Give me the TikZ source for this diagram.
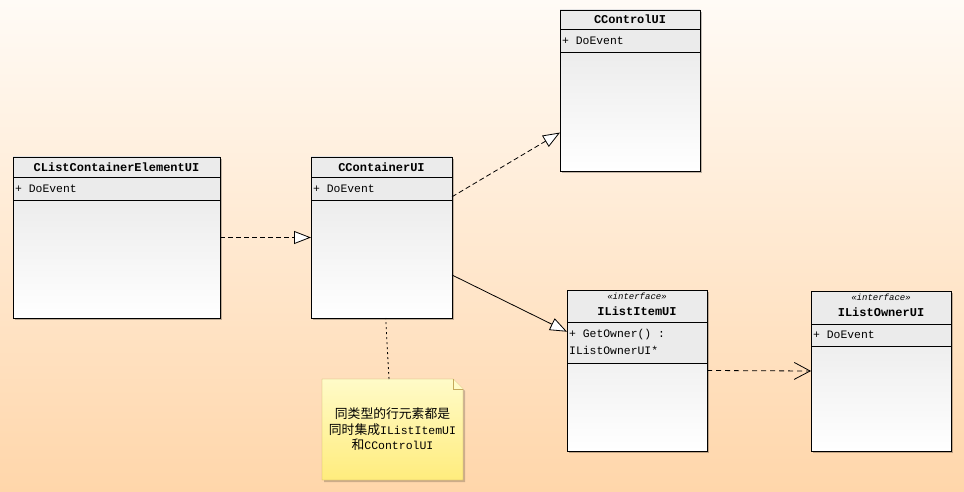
\documentclass[tikz,border=0pt]{standalone}
\usepackage{fontspec}
\setmonofont{Liberation Mono}
\newfontfamily\cjk{Noto Sans CJK SC}
\usetikzlibrary{arrows.meta,shadows,positioning}

\definecolor{bgtop}{RGB}{255,251,246}
\definecolor{bgbot}{RGB}{255,214,170}
\definecolor{notetop}{RGB}{255,251,200}
\definecolor{notebot}{RGB}{255,236,125}
\definecolor{noteline}{RGB}{196,170,90}

\newcommand{\mono}[1]{{\ttfamily\fontsize{11.5}{15.5}\selectfont #1}}

\begin{document}
\begin{tikzpicture}[x=1pt,y=-1pt]
%%%%%%%%%%%%%%%%%%%%%%%%%%%%%%%%%%%%%%%%%%%%%%%%%%%%%%%%
% STYLE
\tikzstyle{cls}=[rectangle,inner sep=0pt,outer sep=0pt,top color=gray!20,bottom color=white,drop shadow={shadow xshift=2pt,shadow yshift=-2pt,fill=black,opacity=0.25}]
\tikzstyle{cmpt}=[fill=gray!16]
\tikzstyle{ttl}=[inner sep=0pt,font=\ttfamily\bfseries\fontsize{12}{14}\selectfont]
\tikzstyle{stereo}=[inner sep=0pt,font=\ttfamily\itshape\fontsize{9}{10}\selectfont]
\tikzstyle{attr}=[inner sep=0pt,anchor=west,align=left,font=\ttfamily\fontsize{11.4}{16.6}\selectfont]
\tikzstyle{notebox}=[rectangle,inner sep=0pt,outer sep=0pt]
\tikzstyle{notetxt}=[align=center,inner sep=0pt,font=\cjk\fontsize{12.8}{15.5}\selectfont]
\tikzstyle{real}=[line width=0.8pt,dash pattern=on 5pt off 3pt,-{Triangle[fill=white,length=17pt,width=13pt,line width=0.8pt]}]
\tikzstyle{gen}=[line width=0.8pt,-{Triangle[fill=white,length=17pt,width=13pt,line width=0.8pt]}]
\tikzstyle{dep}=[line width=0.8pt,dash pattern=on 5pt off 4pt,-{Straight Barb[length=16pt,width=17pt,line width=0.8pt]}]
\tikzstyle{link}=[line width=0.8pt,dash pattern=on 2pt off 3pt]

%%%%%%%%%%%%%%%%%%%%%%%%%%%%%%%%%%%%%%%%%%%%%%%%%%%%%%%%
% BACKGROUND
\useasboundingbox (0,0) rectangle (964,492);
\shade[top color=bgtop,bottom color=bgbot] (0,0) rectangle (964,492);

%%%%%%%%%%%%%%%%%%%%%%%%%%%%%%%%%%%%%%%%%%%%%%%%%%%%%%%%
% NODES
\node[cls,minimum width=207pt,minimum height=161pt] (CLCE) at (116.5,237.5) {};
\node[cls,minimum width=141pt,minimum height=161pt] (CCont) at (381.5,237.5) {};
\node[cls,minimum width=140pt,minimum height=161pt] (CCtrl) at (630,90.5) {};
\node[cls,minimum width=140pt,minimum height=161pt] (ILI) at (637,370.5) {};
\node[cls,minimum width=140pt,minimum height=160pt] (ILO) at (881,371) {};

\foreach \n/\a/\b in {CLCE/20/43,CCont/20/43,CCtrl/19/42,ILI/32/73,ILO/33/55}{
  \fill[cmpt] (\n.north west) rectangle ([yshift=-\b]\n.north east);
  \draw ([yshift=-\a]\n.north west) -- ([yshift=-\a]\n.north east);
  \draw ([yshift=-\b]\n.north west) -- ([yshift=-\b]\n.north east);
  \draw (\n.north west) rectangle (\n.south east);
}

\node[ttl] (tCLCE) at ([yshift=-10]CLCE.north) {CListContainerElementUI};
\node[attr] (aCLCE) at ([xshift=2,yshift=-31.5]CLCE.north west) {+ DoEvent};

\node[ttl] (tCCont) at ([yshift=-10]CCont.north) {CContainerUI};
\node[attr] (aCCont) at ([xshift=2,yshift=-31.5]CCont.north west) {+ DoEvent};

\node[ttl] (tCCtrl) at ([yshift=-9.5]CCtrl.north) {CControlUI};
\node[attr] (aCCtrl) at ([xshift=2,yshift=-30.5]CCtrl.north west) {+ DoEvent};

\node[stereo] (sILI) at ([yshift=-6]ILI.north) {«interface»};
\node[ttl] (tILI) at ([yshift=-21]ILI.north) {IListItemUI};
\node[attr] (aILI) at ([xshift=2,yshift=-52]ILI.north west) {+ GetOwner() :\\IListOwnerUI*};

\node[stereo] (sILO) at ([yshift=-6]ILO.north) {«interface»};
\node[ttl] (tILO) at ([yshift=-21]ILO.north) {IListOwnerUI};
\node[attr] (aILO) at ([xshift=2,yshift=-44]ILO.north west) {+ DoEvent};

% note
\node[notebox,minimum width=141pt,minimum height=101pt] (note) at (392.5,429.5) {};
\draw[draw=noteline,top color=notetop,bottom color=notebot,drop shadow={shadow xshift=2pt,shadow yshift=-2pt,fill=black,opacity=0.2}]
  (note.north west) -- ([xshift=-10]note.north east) -- ([yshift=-10]note.north east)
  -- (note.south east) -- (note.south west) -- cycle;
\draw[draw=noteline,fill=notetop] ([xshift=-10]note.north east) -- ([xshift=-10,yshift=-10]note.north east) -- ([yshift=-10]note.north east);
\node[notetxt] (tnote) at (note.center) {同类型的行元素都是\\同时集成\mono{IListItemUI}\\和\mono{CControlUI}};

%%%%%%%%%%%%%%%%%%%%%%%%%%%%%%%%%%%%%%%%%%%%%%%%%%%%%%%%
% LINKS
\draw[real] (CLCE.east) -- (CCont.west);
\draw[real] (CCont.30.5) -- (CCtrl.211.3);
\draw[gen] (CCont.-28) -- (ILI.151.8);
\draw[dep] (ILI.east) -- (ILO.west);
\draw[link] (note.94) -- (CCont.273.2);

\end{tikzpicture}
\end{document}
